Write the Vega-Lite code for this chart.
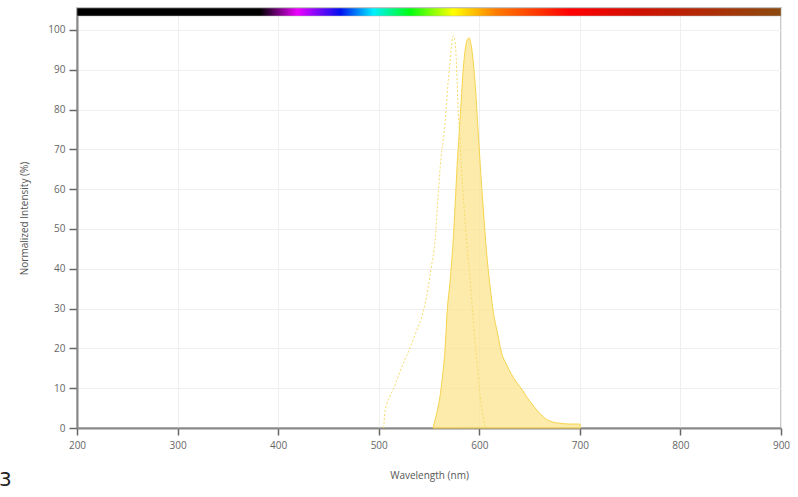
{
  "$schema": "https://vega.github.io/schema/vega-lite/v6.json",
  "width": 704,
  "height": 420,
  "autosize": {"type": "none"},
  "padding": {"left": 77, "top": 8, "right": 17, "bottom": 69},
  "background": "white",
  "config": {
    "view": {"stroke": "#c8c8c8", "strokeWidth": 2},
    "font": "Open Sans",
    "axis": {
      "labelFont": "Open Sans",
      "titleFont": "Open Sans",
      "labelFontSize": 10,
      "titleFontSize": 10,
      "titleFontWeight": "normal",
      "labelColor": "#666",
      "titleColor": "#555",
      "gridColor": "#efefef",
      "gridWidth": 1,
      "domainColor": "#888",
      "domainWidth": 2,
      "tickColor": "#666",
      "tickWidth": 1.5,
      "labelFlush": false
    }
  },
  "title": {
    "text": "3",
    "orient": "bottom",
    "anchor": "start",
    "frame": "group",
    "fontSize": 20,
    "fontWeight": "normal",
    "font": "DejaVu Sans",
    "color": "#222",
    "dx": -78,
    "offset": -10
  },
  "datasets": {
    "spectra": [
      {"series": "Emission", "wavelength": 554, "intensity": 0},
      {"series": "Emission", "wavelength": 556, "intensity": 2},
      {"series": "Emission", "wavelength": 558, "intensity": 4},
      {"series": "Emission", "wavelength": 561, "intensity": 8},
      {"series": "Emission", "wavelength": 563, "intensity": 12},
      {"series": "Emission", "wavelength": 566, "intensity": 20},
      {"series": "Emission", "wavelength": 568, "intensity": 29},
      {"series": "Emission", "wavelength": 571, "intensity": 37},
      {"series": "Emission", "wavelength": 574, "intensity": 47},
      {"series": "Emission", "wavelength": 576, "intensity": 56},
      {"series": "Emission", "wavelength": 578, "intensity": 66},
      {"series": "Emission", "wavelength": 580, "intensity": 74},
      {"series": "Emission", "wavelength": 582, "intensity": 82},
      {"series": "Emission", "wavelength": 584, "intensity": 90},
      {"series": "Emission", "wavelength": 586, "intensity": 95},
      {"series": "Emission", "wavelength": 588, "intensity": 97.5},
      {"series": "Emission", "wavelength": 590, "intensity": 98},
      {"series": "Emission", "wavelength": 592, "intensity": 96},
      {"series": "Emission", "wavelength": 594, "intensity": 92},
      {"series": "Emission", "wavelength": 596, "intensity": 86},
      {"series": "Emission", "wavelength": 598, "intensity": 78},
      {"series": "Emission", "wavelength": 600, "intensity": 70},
      {"series": "Emission", "wavelength": 602, "intensity": 62},
      {"series": "Emission", "wavelength": 604, "intensity": 55},
      {"series": "Emission", "wavelength": 606, "intensity": 48},
      {"series": "Emission", "wavelength": 608, "intensity": 42},
      {"series": "Emission", "wavelength": 611, "intensity": 35},
      {"series": "Emission", "wavelength": 614, "intensity": 29},
      {"series": "Emission", "wavelength": 618, "intensity": 24},
      {"series": "Emission", "wavelength": 622, "intensity": 19},
      {"series": "Emission", "wavelength": 627, "intensity": 16},
      {"series": "Emission", "wavelength": 632, "intensity": 13.5},
      {"series": "Emission", "wavelength": 637, "intensity": 11.5},
      {"series": "Emission", "wavelength": 643, "intensity": 9.5},
      {"series": "Emission", "wavelength": 648, "intensity": 7.5},
      {"series": "Emission", "wavelength": 654, "intensity": 5.5},
      {"series": "Emission", "wavelength": 660, "intensity": 3.7},
      {"series": "Emission", "wavelength": 666, "intensity": 2.3},
      {"series": "Emission", "wavelength": 673, "intensity": 1.5},
      {"series": "Emission", "wavelength": 680, "intensity": 1.2},
      {"series": "Emission", "wavelength": 690, "intensity": 1},
      {"series": "Emission", "wavelength": 700, "intensity": 1},
      {"series": "Emission", "wavelength": 700.5, "intensity": 0},
      {"series": "Excitation", "wavelength": 505, "intensity": 0},
      {"series": "Excitation", "wavelength": 506, "intensity": 3.7},
      {"series": "Excitation", "wavelength": 508, "intensity": 6},
      {"series": "Excitation", "wavelength": 511, "intensity": 8},
      {"series": "Excitation", "wavelength": 515, "intensity": 10},
      {"series": "Excitation", "wavelength": 518, "intensity": 12},
      {"series": "Excitation", "wavelength": 524, "intensity": 16},
      {"series": "Excitation", "wavelength": 531, "intensity": 20},
      {"series": "Excitation", "wavelength": 537, "intensity": 24},
      {"series": "Excitation", "wavelength": 544, "intensity": 29},
      {"series": "Excitation", "wavelength": 549, "intensity": 35},
      {"series": "Excitation", "wavelength": 552, "intensity": 40},
      {"series": "Excitation", "wavelength": 556, "intensity": 47},
      {"series": "Excitation", "wavelength": 559, "intensity": 58},
      {"series": "Excitation", "wavelength": 562, "intensity": 68},
      {"series": "Excitation", "wavelength": 565, "intensity": 74},
      {"series": "Excitation", "wavelength": 567, "intensity": 80},
      {"series": "Excitation", "wavelength": 569, "intensity": 87},
      {"series": "Excitation", "wavelength": 571, "intensity": 92},
      {"series": "Excitation", "wavelength": 572, "intensity": 95},
      {"series": "Excitation", "wavelength": 574, "intensity": 98.5},
      {"series": "Excitation", "wavelength": 576, "intensity": 97},
      {"series": "Excitation", "wavelength": 577, "intensity": 93},
      {"series": "Excitation", "wavelength": 578, "intensity": 87},
      {"series": "Excitation", "wavelength": 579, "intensity": 80},
      {"series": "Excitation", "wavelength": 581, "intensity": 72},
      {"series": "Excitation", "wavelength": 583, "intensity": 62},
      {"series": "Excitation", "wavelength": 585, "intensity": 55},
      {"series": "Excitation", "wavelength": 588, "intensity": 45},
      {"series": "Excitation", "wavelength": 591, "intensity": 37},
      {"series": "Excitation", "wavelength": 594, "intensity": 27},
      {"series": "Excitation", "wavelength": 597, "intensity": 18},
      {"series": "Excitation", "wavelength": 600, "intensity": 10},
      {"series": "Excitation", "wavelength": 603, "intensity": 4},
      {"series": "Excitation", "wavelength": 606, "intensity": 0}
    ],
    "band": [
      {"start": 200, "end": 900}
    ]
  },
  "layer": [
    {
      "data": {"name": "spectra"},
      "transform": [{"filter": "datum.series === 'Emission'"}],
      "mark": {"type": "area", "color": "#fbe48f", "fillOpacity": 0.75, "stroke": "#f6d44c", "strokeWidth": 1, "interpolate": "monotone"},
      "encoding": {
        "x": {
          "field": "wavelength", "type": "quantitative",
          "scale": {"domain": [200, 900], "nice": false, "zero": false},
          "axis": {"values": [200, 300, 400, 500, 600, 700, 800, 900], "title": "Wavelength (nm)", "tickSize": 7, "labelPadding": 5, "titlePadding": 20, "grid": true}
        },
        "y": {
          "field": "intensity", "type": "quantitative",
          "scale": {"domain": [0, 105.5], "nice": false},
          "axis": {"values": [0, 10, 20, 30, 40, 50, 60, 70, 80, 90, 100], "title": "Normalized Intensity (%)", "tickSize": 8, "labelPadding": 4, "titlePadding": 18, "grid": true}
        }
      }
    },
    {
      "data": {"name": "spectra"},
      "transform": [{"filter": "datum.series === 'Excitation'"}],
      "mark": {"type": "line", "color": "#f7dc6a", "strokeWidth": 1, "strokeDash": [2, 2], "interpolate": "monotone"},
      "encoding": {
        "x": {"field": "wavelength", "type": "quantitative"},
        "y": {"field": "intensity", "type": "quantitative"}
      }
    },
    {
      "data": {"name": "band"},
      "mark": {
        "type": "rect",
        "stroke": "#b0b0b0",
        "strokeWidth": 0.5,
        "color": {
          "gradient": "linear",
          "x1": 0, "y1": 0, "x2": 1, "y2": 0,
          "stops": [
            {"offset": 0, "color": "#000000"},
            {"offset": 0.26, "color": "#000000"},
            {"offset": 0.313, "color": "#ee00ff"},
            {"offset": 0.374, "color": "#0010f0"},
            {"offset": 0.421, "color": "#00f0ff"},
            {"offset": 0.473, "color": "#00ff10"},
            {"offset": 0.534, "color": "#ffff00"},
            {"offset": 0.596, "color": "#ff7a00"},
            {"offset": 0.7, "color": "#ff0000"},
            {"offset": 0.8, "color": "#d01000"},
            {"offset": 1, "color": "#8b4a10"}
          ]
        }
      },
      "encoding": {
        "x": {"field": "start", "type": "quantitative"},
        "x2": {"field": "end"},
        "y": {"datum": 103.5},
        "y2": {"datum": 105.5}
      }
    }
  ]
}
